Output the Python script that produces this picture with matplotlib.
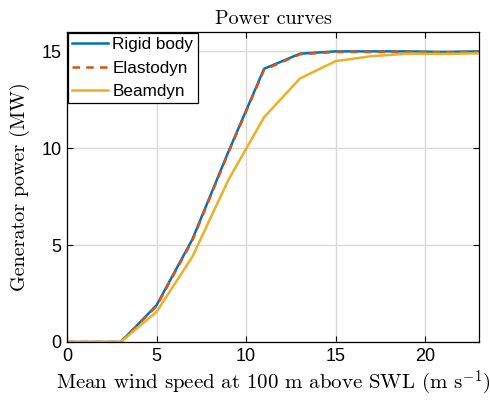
import matplotlib
matplotlib.use('Agg')
import matplotlib.pyplot as plt

wind = [0, 3, 5, 7, 9, 11, 13, 15, 17, 19, 21, 23]
rigid = [0, 0, 1.9, 5.3, 9.8, 14.1, 14.88, 15.0, 15.0, 15.0, 14.97, 15.0]
elasto = [0, 0, 1.85, 5.25, 9.75, 14.05, 14.85, 14.97, 14.97, 14.97, 14.95, 14.97]
beam = [0, 0, 1.56, 4.4, 8.35, 11.6, 13.6, 14.5, 14.75, 14.88, 14.87, 14.9]

plt.rcParams['mathtext.fontset'] = 'cm'
plt.rcParams['font.family'] = 'Liberation Sans'

fig = plt.figure(figsize=(4.9, 4.03), dpi=100)
ax = fig.add_axes([0.1367, 0.1514, 0.841, 0.7692])

ax.plot(wind, rigid, color='#0072BD', lw=1.8, label='Rigid body')
ax.plot(wind, elasto, color='#D95319', lw=1.8, ls=(0, (3, 2.5)), label='Elastodyn')
ax.plot(wind, beam, color='#EDB120', lw=1.8, label='Beamdyn')

ax.set_xlim(0, 23)
ax.set_ylim(0, 16)
ax.set_xticks([0, 5, 10, 15, 20])
ax.set_yticks([0, 5, 10, 15])
ax.grid(True, color='#d9d9d9', lw=1.0)
ax.set_axisbelow(True)
ax.tick_params(direction='in', top=True, right=True, labelsize=13, length=4, width=0.8, pad=4)
for s in ax.spines.values():
    s.set_linewidth(0.9)

ax.set_title('Power curves', pad=6, family='cmr10', fontsize=14.5)
ax.set_xlabel(r'Mean wind speed at 100 m above SWL (m s$^{-1}$)', labelpad=3, family='cmr10', fontsize=15)
ax.set_ylabel('Generator power (MW)', labelpad=8, family='cmr10', fontsize=14.5)

leg = ax.legend(loc='upper left', fontsize=12.3, fancybox=False, framealpha=1,
                edgecolor='black', borderpad=0.25, handlelength=2.1, handletextpad=0.25,
                labelspacing=0.5, borderaxespad=0.05)
leg.get_frame().set_linewidth(0.9)

fig.savefig('out.png', dpi=100)
